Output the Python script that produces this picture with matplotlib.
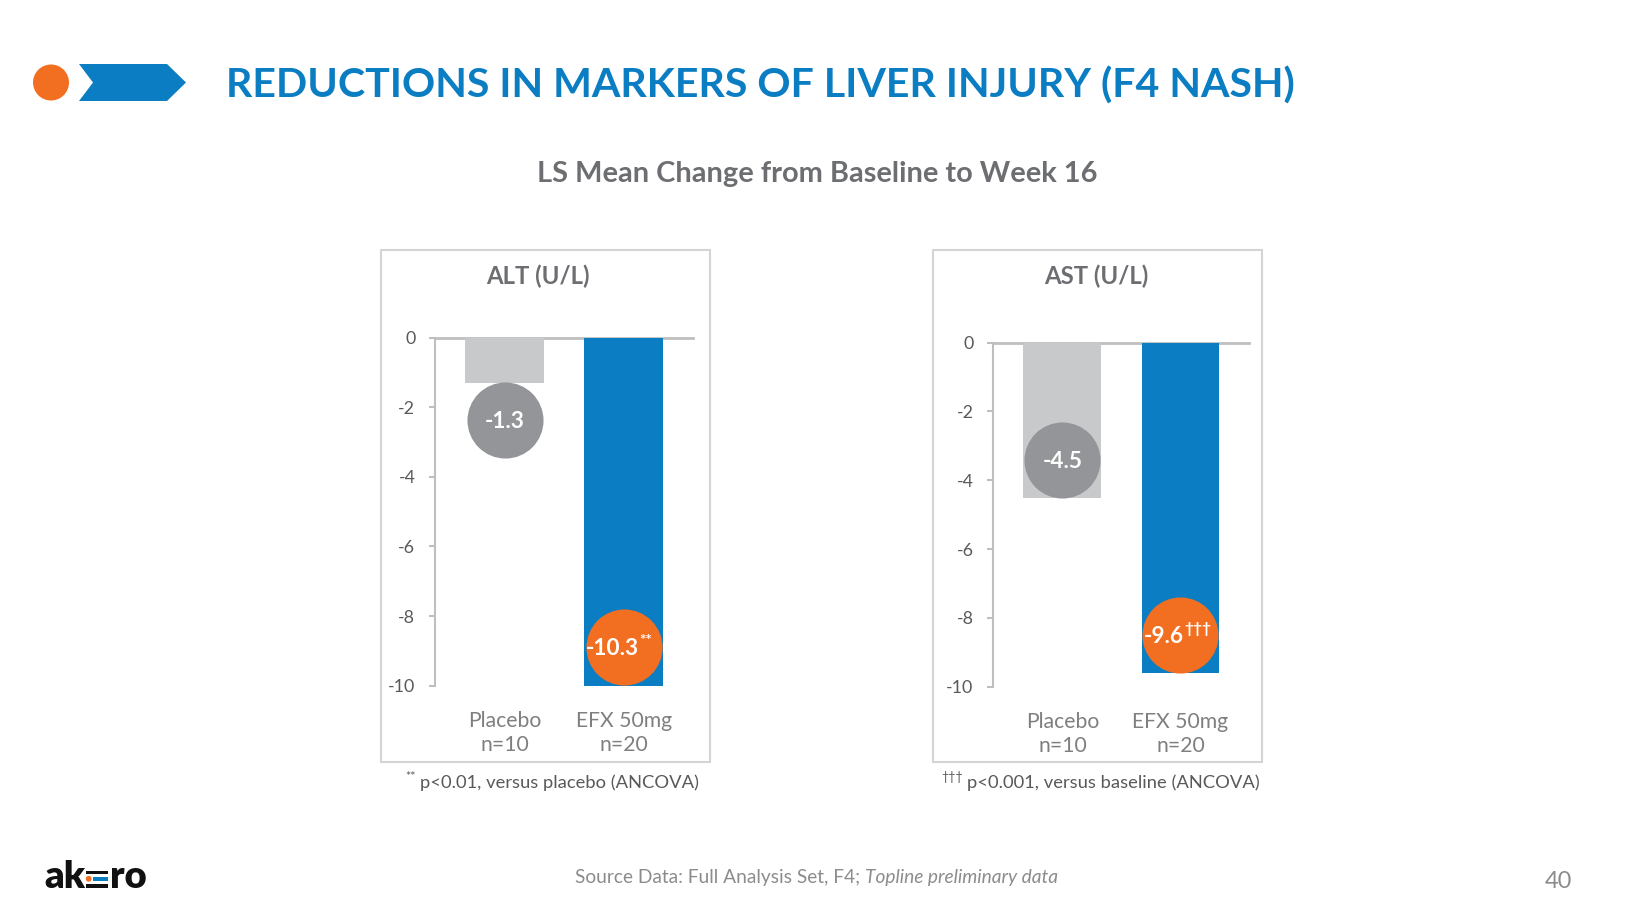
import numpy as np
import matplotlib.pyplot as plt
from matplotlib.patches import Rectangle, Circle, Polygon

plt.rcParams['font.family'] = ['Lato', 'DejaVu Sans']
plt.rcParams['axes.unicode_minus'] = False

# data
groups = ['Placebo\nn=10', 'EFX 50mg\nn=20']
alt_vals = [-1.3, -10.3]
ast_vals = [-4.5, -9.6]
alt_marks = ['', '**']
ast_marks = ['', '\u2020\u2020\u2020']
y_ticks = [0, -2, -4, -6, -8, -10]

BLUE = '#0B7DC2'
ORANGE = '#F26F21'
BAR_GRAY = '#C8C9CB'
DOT_GRAY = '#939598'
AXIS = '#BFBFBF'
BOX = '#D4D4D4'
TXT = '#6D6E71'
TICK = '#595959'
CAT = '#7F7F7F'
LIGHT = '#8C8C8C'

W, H = 1634, 919
fig = plt.figure(figsize=(W / 100, H / 100), dpi=100)

# background axes in pixel units for the slide decoration
bg = fig.add_axes([0, 0, 1, 1])
bg.set_xlim(0, W)
bg.set_ylim(H, 0)
bg.axis('off')

# header
bg.add_patch(Circle((51, 82.5), 18, color=ORANGE, lw=0))
bg.add_patch(Polygon([(79, 64), (167, 64), (186, 82.5), (167, 101), (79, 101), (93, 82.5)],
                     closed=True, color=BLUE, lw=0))
bg.text(226, 97.5, 'REDUCTIONS IN MARKERS OF LIVER INJURY (F4 NASH)', color=BLUE,
        fontsize=29.6, weight='bold', va='baseline', ha='left')
bg.text(817, 174, 'LS Mean Change from Baseline to Week 16', color=TXT,
        fontsize=20.9, weight='bold', ha='center', va='center')


def panel(left, right, y0, y10, vals, marks, title, title_x, box_x0, box_x1, note, note_mark):
    bg.add_patch(Rectangle((box_x0, 250), box_x1 - box_x0, 512, fill=False, ec=BOX, lw=1.5))
    bg.text(title_x, 276, title, color=TXT, fontsize=17.2, weight='bold', ha='center', va='center')

    ax = fig.add_axes([left / W, 1 - y10 / H, (right - left) / W, (y10 - y0) / H])
    ax.patch.set_alpha(0)
    x = np.arange(len(vals))
    ax.bar(x, vals, width=0.66, color=[BAR_GRAY, BLUE], zorder=2)
    ax.set_xlim(-0.59, 1.58)
    ax.set_ylim(-10, 0)
    ax.axhline(0, color=AXIS, lw=2, zorder=1, clip_on=False)
    for s in ['top', 'right', 'bottom']:
        ax.spines[s].set_visible(False)
    ax.spines['left'].set_color(AXIS)
    ax.spines['left'].set_linewidth(1.5)
    ax.set_yticks(y_ticks)
    ax.tick_params(axis='y', length=4.3, width=1.5, color=AXIS, pad=9.5,
                   labelsize=12.8, labelcolor=TICK)
    ax.set_xticks(x, groups)
    ax.tick_params(axis='x', length=0, pad=18.5, labelsize=15.2, labelcolor=CAT)
    for lab in ax.get_xticklabels():
        lab.set_linespacing(1.25)

    for i, (v, m) in enumerate(zip(vals, marks)):
        end = max(v, -10)
        cy = end - 1.08 if v > -2 else end + 1.1
        col = DOT_GRAY if i == 0 else ORANGE
        ax.scatter(i, cy, s=3000, color=col, lw=0, zorder=3, clip_on=False)
        t = ax.annotate(f'{v:.1f}', (i, cy), xytext=(-4 * len(m), -1), textcoords='offset points',
                        ha='center', va='center', color='white', fontsize=16.3, weight='bold', zorder=4)
        if m:
            ax.annotate(m, xy=(1, 0.85), xycoords=t, ha='left', va='center', color='white',
                        fontsize=11, weight='bold', zorder=4)

    nt = bg.text(note[0], 783, note[1], color=TICK, fontsize=13.2, ha='left', va='center')
    bg.annotate(note_mark, xy=(0, 0.85), xycoords=nt, xytext=(-3, 0), textcoords='offset points',
                ha='right', va='center', color=TICK, fontsize=9)
    return ax


panel(434.5, 692.7, 337.6, 685.7, alt_vals, alt_marks, 'ALT (U/L)', 538, 381.5, 710.5,
      (420, 'p<0.01, versus placebo (ANCOVA)'), alt_marks[1])
panel(992.7, 1249, 342.7, 686.7, ast_vals, ast_marks, 'AST (U/L)', 1096.5, 933, 1261.7,
      (967, 'p<0.001, versus baseline (ANCOVA)'), ast_marks[1])

# footer
src = bg.text(575, 878, 'Source Data: Full Analysis Set, F4; ', color=LIGHT, fontsize=13.8,
              ha='left', va='center')
bg.annotate('Topline preliminary data', xy=(1, 0), xycoords=src, ha='left', va='bottom',
            color=LIGHT, fontsize=13.8, style='italic')
bg.text(1558, 881, '40', color=LIGHT, fontsize=17, ha='center', va='center')

# akero logo
bg.text(44, 888, 'ak', fontsize=27.5, weight='heavy', color='#111111', ha='left', va='baseline')
bg.add_patch(Rectangle((86, 870.5), 22, 3.4, color='#111111', lw=0))
bg.add_patch(Circle((88.7, 878.8), 2.9, color=ORANGE, lw=0))
bg.add_patch(Rectangle((93.5, 877.1), 14.5, 3.4, color=BLUE, lw=0))
bg.add_patch(Rectangle((86, 884.3), 22, 3.4, color='#111111', lw=0))
bg.text(110, 888, 'ro', fontsize=27.5, weight='heavy', color='#111111', ha='left', va='baseline')

fig.savefig('out.png', dpi=100)
